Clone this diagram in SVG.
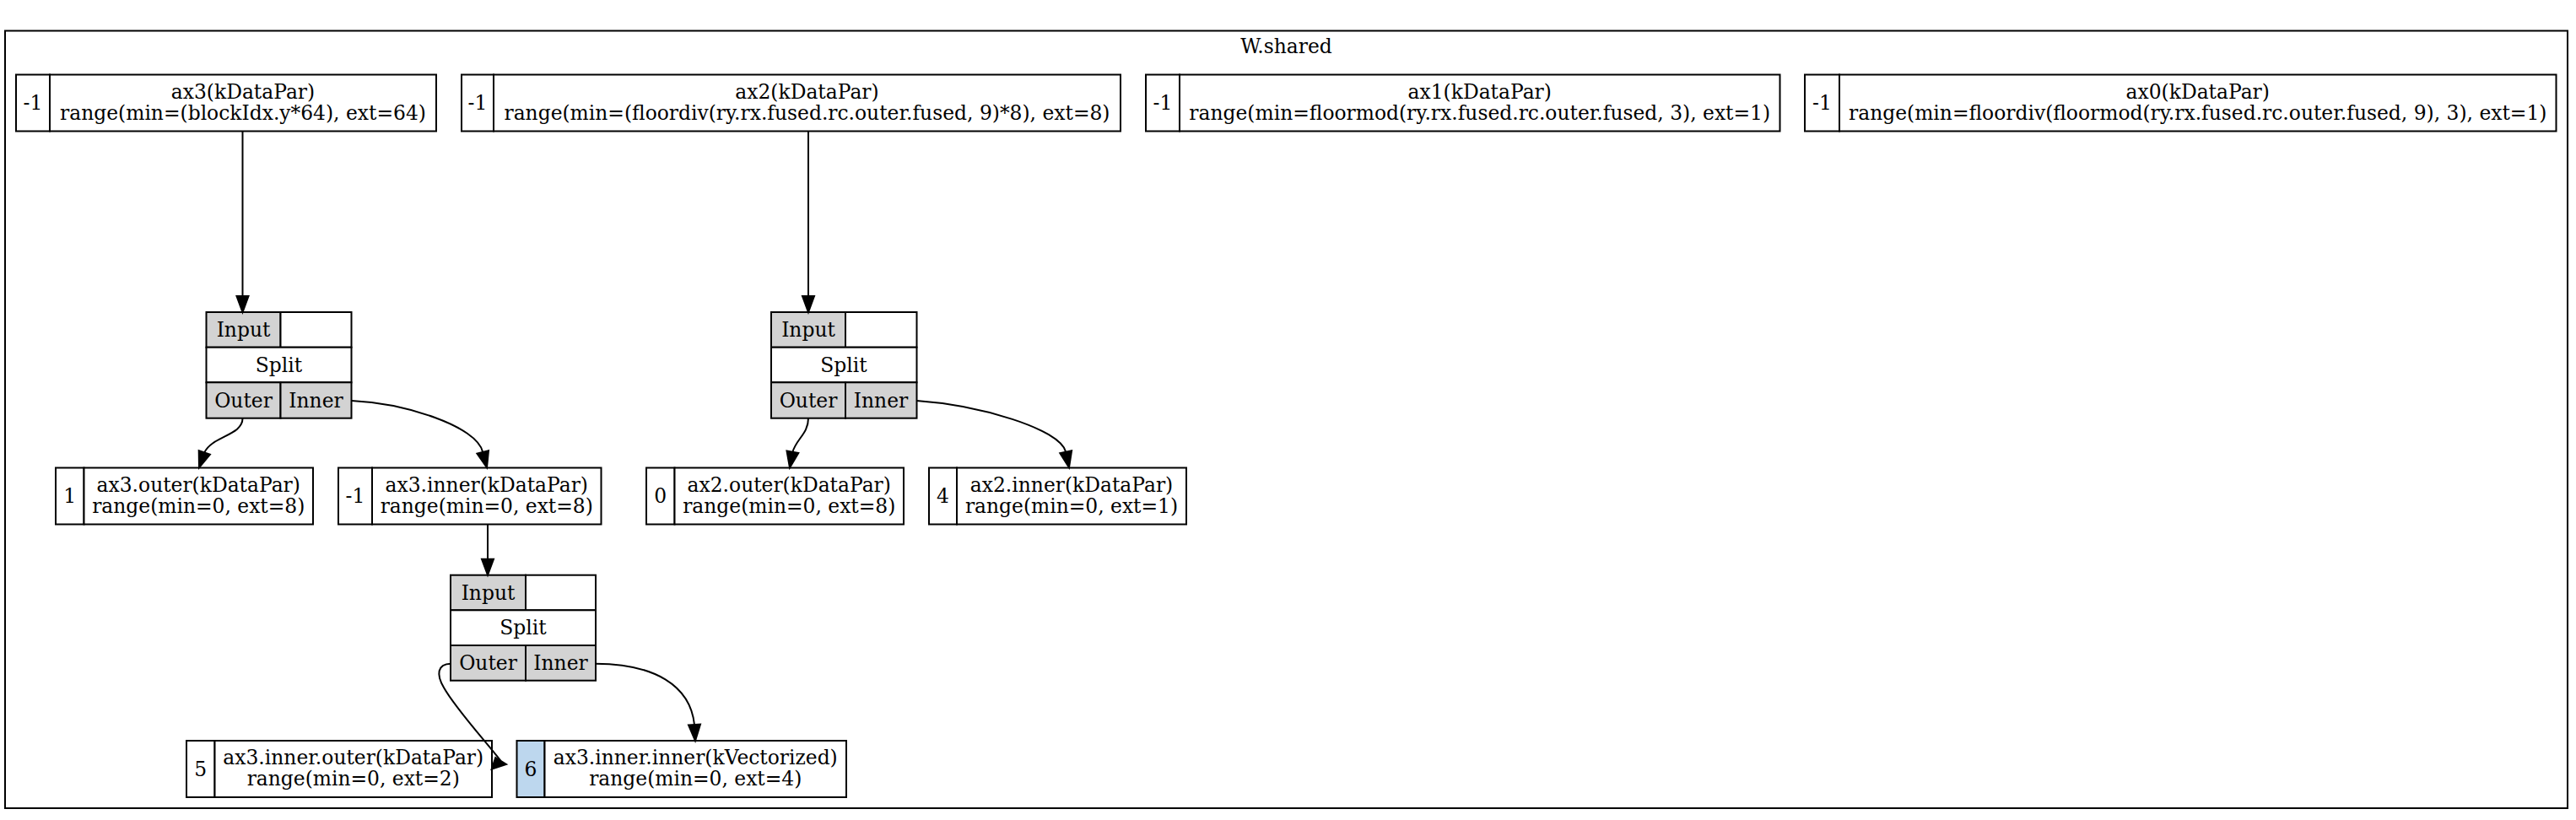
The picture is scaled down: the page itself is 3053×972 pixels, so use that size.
<svg xmlns="http://www.w3.org/2000/svg" width="3053" height="972" viewBox="0 0 3053 972">
<style>
.cl{fill:#fff;stroke:#000;stroke-width:2}
.c{fill:#fff;stroke:#000;stroke-width:2}
.g{fill:#d3d3d3;stroke:#000;stroke-width:2}
.b{fill:#bdd7ee;stroke:#000;stroke-width:2}
text{font-family:"DejaVu Serif","Liberation Serif",serif;font-size:23.4px;text-anchor:middle;fill:#000}
.e{fill:none;stroke:#000;stroke-width:2}
.a{fill:#000;stroke:#000;stroke-width:2}
</style>
<rect width="3053" height="972" fill="#fff"/>
<g id="cluster_W_shared">
<rect class="cl" x="6" y="36.5" width="3037" height="921.5"/>
<text x="1524.5" y="63">W.shared</text>
</g>
<g id="ax3">
<rect class="c" x="19" y="88.5" width="40" height="67"/>
<rect class="c" x="59" y="88.5" width="458" height="67"/>
<text x="39" y="130">-1</text>
<text x="288" y="116.5">ax3(kDataPar)</text>
<text x="288" y="141.5">range(min=(blockIdx.y*64), ext=64)</text>
</g>
<g id="ax2">
<rect class="c" x="547" y="88.5" width="38" height="67"/>
<rect class="c" x="585" y="88.5" width="743" height="67"/>
<text x="566" y="130">-1</text>
<text x="956.5" y="116.5">ax2(kDataPar)</text>
<text x="956.5" y="141.5">range(min=(floordiv(ry.rx.fused.rc.outer.fused, 9)*8), ext=8)</text>
</g>
<g id="ax1">
<rect class="c" x="1358" y="88.5" width="40" height="67"/>
<rect class="c" x="1398" y="88.5" width="711.5" height="67"/>
<text x="1378" y="130">-1</text>
<text x="1753.75" y="116.5">ax1(kDataPar)</text>
<text x="1753.75" y="141.5">range(min=floormod(ry.rx.fused.rc.outer.fused, 3), ext=1)</text>
</g>
<g id="ax0">
<rect class="c" x="2139" y="88.5" width="41" height="67"/>
<rect class="c" x="2180" y="88.5" width="849.5" height="67"/>
<text x="2159.5" y="130">-1</text>
<text x="2604.75" y="116.5">ax0(kDataPar)</text>
<text x="2604.75" y="141.5">range(min=floordiv(floormod(ry.rx.fused.rc.outer.fused, 9), 3), ext=1)</text>
</g>
<g id="split_ax3">
<rect class="g" x="244.5" y="370" width="88" height="41.7"/>
<rect class="c" x="332.5" y="370" width="84" height="41.7"/>
<rect class="c" x="244.5" y="411.7" width="172" height="41.6"/>
<rect class="g" x="244.5" y="453.3" width="88" height="42.4"/>
<rect class="g" x="332.5" y="453.3" width="84" height="42.4"/>
<text x="288.5" y="399">Input</text>
<text x="330.5" y="440.5">Split</text>
<text x="288.5" y="482.5">Outer</text>
<text x="374.5" y="482.5">Inner</text>
</g>
<g id="split_ax2">
<rect class="g" x="914" y="370" width="88" height="41.7"/>
<rect class="c" x="1002" y="370" width="84.5" height="41.7"/>
<rect class="c" x="914" y="411.7" width="172.5" height="41.6"/>
<rect class="g" x="914" y="453.3" width="88" height="42.4"/>
<rect class="g" x="1002" y="453.3" width="84.5" height="42.4"/>
<text x="958" y="399">Input</text>
<text x="1000" y="440.5">Split</text>
<text x="958" y="482.5">Outer</text>
<text x="1044" y="482.5">Inner</text>
</g>
<g id="ax3_outer">
<rect class="c" x="66" y="554.5" width="33.5" height="67"/>
<rect class="c" x="99.5" y="554.5" width="271.5" height="67"/>
<text x="82.75" y="596">1</text>
<text x="235.25" y="582.5">ax3.outer(kDataPar)</text>
<text x="235.25" y="607.5">range(min=0, ext=8)</text>
</g>
<g id="ax3_inner">
<rect class="c" x="401" y="554.5" width="40" height="67"/>
<rect class="c" x="441" y="554.5" width="271.5" height="67"/>
<text x="421" y="596">-1</text>
<text x="576.75" y="582.5">ax3.inner(kDataPar)</text>
<text x="576.75" y="607.5">range(min=0, ext=8)</text>
</g>
<g id="ax2_outer">
<rect class="c" x="766" y="554.5" width="33.5" height="67"/>
<rect class="c" x="799.5" y="554.5" width="271.5" height="67"/>
<text x="782.75" y="596">0</text>
<text x="935.25" y="582.5">ax2.outer(kDataPar)</text>
<text x="935.25" y="607.5">range(min=0, ext=8)</text>
</g>
<g id="ax2_inner">
<rect class="c" x="1101" y="554.5" width="33" height="67"/>
<rect class="c" x="1134" y="554.5" width="272" height="67"/>
<text x="1117.5" y="596">4</text>
<text x="1270" y="582.5">ax2.inner(kDataPar)</text>
<text x="1270" y="607.5">range(min=0, ext=1)</text>
</g>
<g id="split_ax3_inner">
<rect class="g" x="534" y="681.7" width="89" height="41.6"/>
<rect class="c" x="623" y="681.7" width="83" height="41.6"/>
<rect class="c" x="534" y="723.3" width="172" height="41.7"/>
<rect class="g" x="534" y="765" width="89" height="41.7"/>
<rect class="g" x="623" y="765" width="83" height="41.7"/>
<text x="578.5" y="710.5">Input</text>
<text x="620" y="752">Split</text>
<text x="578.5" y="794">Outer</text>
<text x="664.5" y="794">Inner</text>
</g>
<g id="ax3_inner_outer">
<rect class="c" x="221" y="878" width="33.5" height="67"/>
<rect class="c" x="254.5" y="878" width="328.5" height="67"/>
<text x="237.75" y="919.5">5</text>
<text x="418.75" y="906">ax3.inner.outer(kDataPar)</text>
<text x="418.75" y="931">range(min=0, ext=2)</text>
</g>
<g id="ax3_inner_inner">
<rect class="b" x="612.5" y="878" width="33" height="67"/>
<rect class="c" x="645.5" y="878" width="357.5" height="67"/>
<text x="629" y="919.5">6</text>
<text x="824.25" y="906">ax3.inner.inner(kVectorized)</text>
<text x="824.25" y="931">range(min=0, ext=4)</text>
</g>
<g id="edges">
<path class="e" d="M287.5,155.5 V351"/>
<polygon class="a" points="280.5,351 294.5,351 287.5,370"/>
<path class="e" d="M958,155.5 V351"/>
<polygon class="a" points="951,351 965,351 958,370"/>
<path class="e" d="M287.5,495.7 C288,516 251,517 242.3,536.4"/>
<polygon class="a" points="248.9,538.7 235.7,534.1 236,554.3"/>
<path class="e" d="M416.7,475 C480,478 565,505 572.2,535.9"/>
<polygon class="a" points="579,534.1 565.4,537.6 577,554.3"/>
<path class="e" d="M958,495.7 C958,514 944,520 939.4,535.7"/>
<polygon class="a" points="946.3,537 932.5,534.4 936,554.3"/>
<path class="e" d="M1086.5,475 C1160,480 1256,508 1263.2,535.7"/>
<polygon class="a" points="1270.1,534.3 1256.3,537.1 1267,554.3"/>
<path class="e" d="M578,621.5 V662.7"/>
<polygon class="a" points="571,662.7 585,662.7 578,681.7"/>
<path class="e" d="M534.3,786.7 C518,787 517,800 526,815 C540,840 575,878 593.6,902"/>
<polygon class="a" points="587.3,898 600,906 582.7,911.7"/>
<path class="e" d="M706,786.7 C775,787 818,812 823,859"/>
<polygon class="a" points="816,859.4 830,858.6 824,878"/>
</g>
</svg>
